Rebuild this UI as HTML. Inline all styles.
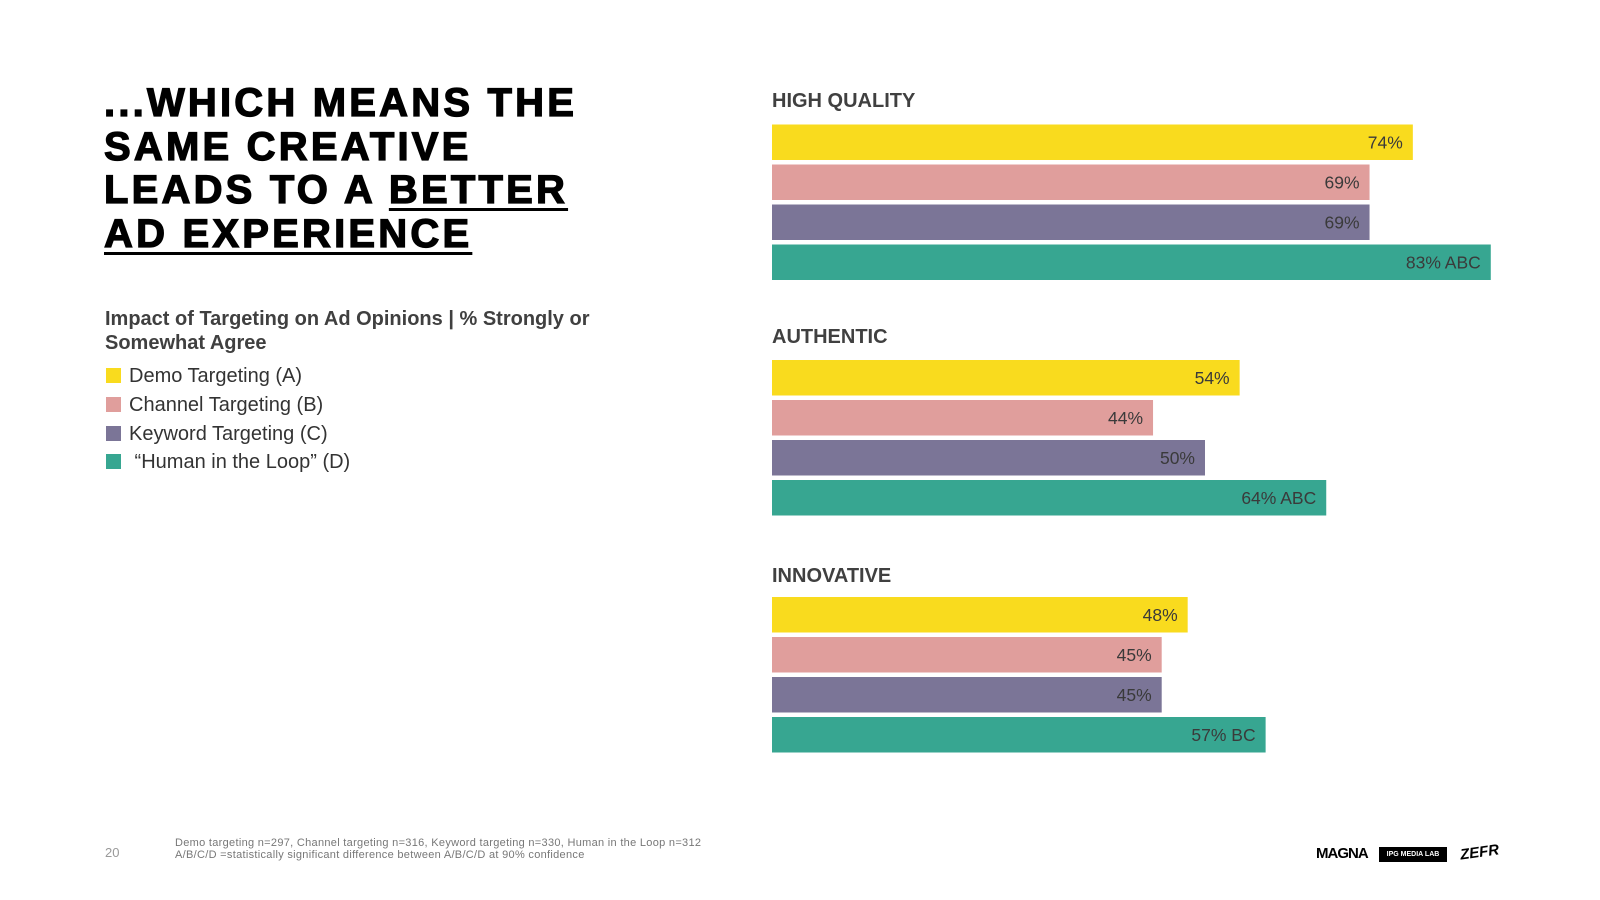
<!DOCTYPE html>
<html><head><meta charset="utf-8">
<style>
body{margin:0;width:1600px;height:900px;background:#fff;position:relative;overflow:hidden;font-family:"Liberation Sans",Arial,sans-serif;}
.title{position:absolute;left:104px;top:82px;font-size:40px;font-weight:900;line-height:43.5px;letter-spacing:3.2px;color:#000;-webkit-text-stroke:1.3px #000;}
.title u{text-decoration-thickness:3px;text-underline-offset:5px;}
.sub{position:absolute;left:105px;top:307px;font-size:20px;font-weight:bold;color:#404040;line-height:24px;width:520px;}
.leg{position:absolute;left:106px;font-size:20px;color:#333;}
.leg span{display:inline-block;width:15px;height:15px;margin-right:8px;vertical-align:-1px;}
.foot{position:absolute;font-size:11px;color:#777;}
</style></head><body>
<div class="title">...WHICH MEANS THE<br>SAME CREATIVE<br>LEADS TO A <u>BETTER</u><br><u>AD EXPERIENCE</u></div>
<div class="sub">Impact of Targeting on Ad Opinions | % Strongly or Somewhat Agree</div>
<div class="leg" style="top:365px"><span style="background:#F9DB1E"></span>Demo Targeting (A)</div>
<div class="leg" style="top:394px"><span style="background:#E09E9C"></span>Channel Targeting (B)</div>
<div class="leg" style="top:423px"><span style="background:#7B7597"></span>Keyword Targeting (C)</div>
<div class="leg" style="top:451px"><span style="background:#37A691"></span> “Human in the Loop” (D)</div>
<div class="foot" style="left:105px;top:845px;font-size:13px;color:#999">20</div>
<div class="foot" style="left:175px;top:837px;line-height:12px;letter-spacing:0.3px">Demo targeting n=297, Channel targeting n=316, Keyword targeting n=330, Human in the Loop n=312<br>A/B/C/D =statistically significant difference between A/B/C/D at 90% confidence</div>
<div class="foot" style="left:1316px;top:845px;font-size:15px;font-weight:900;color:#000;letter-spacing:-1px">MAGNA</div>
<div class="foot" style="left:1379px;top:847px;width:68px;text-align:center;background:#000;color:#fff;font-size:7px;font-weight:bold;padding:4px 0">IPG MEDIA LAB</div>
<div class="foot" style="left:1460px;top:844px;font-size:15px;font-weight:900;color:#000;font-style:italic;transform:rotate(-8deg)">ZEFR</div>
<svg id="chart" width="1600" height="900" style="position:absolute;left:0;top:0"></svg>
<script>
const groups=["HIGH QUALITY","AUTHENTIC","INNOVATIVE"];
const demo=[74,54,48];
const channel=[69,44,45];
const keyword=[69,50,45];
const human=[83,64,57];
const humanSig=["ABC","ABC","BC"];
const colors=["#F9DB1E","#E09E9C","#7B7597","#37A691"];
const seriesNames=["demo","channel","keyword","human"];
const groupTop=[124.5,360,597];
const titleY=[107,343,582];
const svg=document.getElementById('chart');
const NS='http://www.w3.org/2000/svg';
const x0=772,pxPer=8.66;
function xs(v){return v*pxPer;}
const series=[demo,channel,keyword,human];
groups.forEach((g,gi)=>{
  const t=document.createElementNS(NS,'text');
  t.setAttribute('x',x0);t.setAttribute('y',titleY[gi]);
  t.setAttribute('font-size','20');t.setAttribute('font-weight','bold');t.setAttribute('fill','#404040');
  t.setAttribute('font-family','Liberation Sans, sans-serif');
  t.textContent=g;
  
  
  svg.appendChild(t);
  series.forEach((s,si)=>{
    const y=groupTop[gi]+si*40;
    const r=document.createElementNS(NS,'rect');
    r.setAttribute('x',x0);r.setAttribute('y',y);r.setAttribute('width',xs(s[gi]));r.setAttribute('height',35.5);
    r.setAttribute('fill',colors[si]);
    
    
    svg.appendChild(r);
    const l=document.createElementNS(NS,'text');
    l.setAttribute('x',x0+xs(s[gi])-10);l.setAttribute('y',y+24);
    l.setAttribute('text-anchor','end');l.setAttribute('font-size','17.5');l.setAttribute('fill','#3a3a3a');
    l.setAttribute('font-family','Liberation Sans Narrow, Liberation Sans, sans-serif');
    l.textContent=s[gi]+'%'+(si===3?' '+humanSig[gi]:'');
    
    
    svg.appendChild(l);
  });
});
</script>
</body></html>
